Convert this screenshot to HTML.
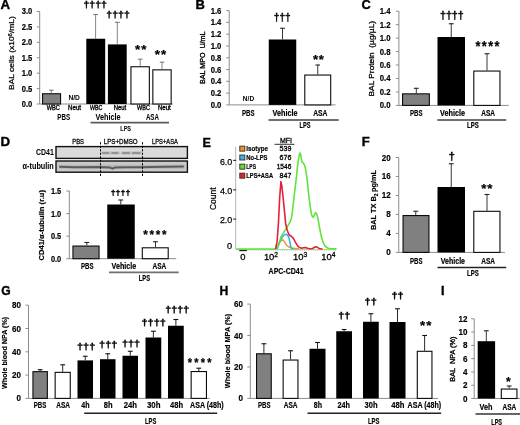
<!DOCTYPE html>
<html lang="en">
<head>
<meta charset="utf-8">
<title>Figure: aspirin reduces LPS-induced lung injury readouts (panels A–I)</title>
<style>
html,body{margin:0;padding:0;background:#fff;}
body{width:520px;height:425px;overflow:hidden;}
svg{display:block;font-family:"Liberation Sans","DejaVu Sans",sans-serif;filter:blur(0.3px);}
svg text{white-space:pre;}
</style>
</head>
<body>
<svg width="520" height="425" viewBox="0 0 520 425" shape-rendering="geometricPrecision">
<rect x="0" y="0" width="520" height="425" fill="#fff"/>
<g id="pA">
<text x="0.4" y="8.92" font-size="12.2" font-weight="bold" stroke="#000" stroke-width="0.35" textLength="9.6" lengthAdjust="spacingAndGlyphs">A</text>
<line x1="39.7" y1="11.5" x2="39.7" y2="104" stroke="#8c8c8c" stroke-width="1" />
<line x1="36.7" y1="104" x2="39.7" y2="104" stroke="#8c8c8c" stroke-width="1" />
<text x="32.3" y="106.97" font-size="8.6" text-anchor="end" font-weight="bold" textLength="10.5" lengthAdjust="spacingAndGlyphs" stroke="#000" stroke-width="0.18">0.0</text>
<line x1="36.7" y1="88.58" x2="39.7" y2="88.58" stroke="#8c8c8c" stroke-width="1" />
<text x="32.3" y="91.55" font-size="8.6" text-anchor="end" font-weight="bold" textLength="10.5" lengthAdjust="spacingAndGlyphs" stroke="#000" stroke-width="0.18">0.5</text>
<line x1="36.7" y1="73.17" x2="39.7" y2="73.17" stroke="#8c8c8c" stroke-width="1" />
<text x="32.3" y="76.13" font-size="8.6" text-anchor="end" font-weight="bold" textLength="10.5" lengthAdjust="spacingAndGlyphs" stroke="#000" stroke-width="0.18">1.0</text>
<line x1="36.7" y1="57.75" x2="39.7" y2="57.75" stroke="#8c8c8c" stroke-width="1" />
<text x="32.3" y="60.72" font-size="8.6" text-anchor="end" font-weight="bold" textLength="10.5" lengthAdjust="spacingAndGlyphs" stroke="#000" stroke-width="0.18">1.5</text>
<line x1="36.7" y1="42.33" x2="39.7" y2="42.33" stroke="#8c8c8c" stroke-width="1" />
<text x="32.3" y="45.3" font-size="8.6" text-anchor="end" font-weight="bold" textLength="10.5" lengthAdjust="spacingAndGlyphs" stroke="#000" stroke-width="0.18">2.0</text>
<line x1="36.7" y1="26.92" x2="39.7" y2="26.92" stroke="#8c8c8c" stroke-width="1" />
<text x="32.3" y="29.88" font-size="8.6" text-anchor="end" font-weight="bold" textLength="10.5" lengthAdjust="spacingAndGlyphs" stroke="#000" stroke-width="0.18">2.5</text>
<line x1="36.7" y1="11.5" x2="39.7" y2="11.5" stroke="#8c8c8c" stroke-width="1" />
<text x="32.3" y="14.47" font-size="8.6" text-anchor="end" font-weight="bold" textLength="10.5" lengthAdjust="spacingAndGlyphs" stroke="#000" stroke-width="0.18">3.0</text>
<text transform="translate(11.6 53.1) rotate(-90)" x="0" y="2.66" font-size="7.7" text-anchor="middle" textLength="73.8" lengthAdjust="spacingAndGlyphs" stroke="#000" stroke-width="0.25">BAL cells (x10<tspan font-size="5.5" dy="-2.6">6</tspan><tspan dy="2.6">/mL)</tspan></text>
<line x1="39.7" y1="104" x2="173" y2="104" stroke="#8c8c8c" stroke-width="1" />
<rect x="42.55" y="93.75" width="18" height="10.25" fill="#808080" stroke="#0a0a0a" stroke-width="1.1"/>
<line x1="51.3" y1="90.2" x2="51.3" y2="93.2" stroke="#777" stroke-width="0.9" />
<line x1="49" y1="90.2" x2="53.6" y2="90.2" stroke="#777" stroke-width="1.1" />
<text x="74.2" y="100.11" font-size="6.7" text-anchor="middle" font-weight="bold" textLength="11.5" lengthAdjust="spacingAndGlyphs" stroke="#000" stroke-width="0.01">N/D</text>
<rect x="86.3" y="38.75" width="18.9" height="65.25" fill="#000"/>
<line x1="95.6" y1="14.5" x2="95.6" y2="38.75" stroke="#777" stroke-width="0.9" />
<line x1="93.3" y1="14.5" x2="97.9" y2="14.5" stroke="#777" stroke-width="1.1" />
<rect x="107.9" y="44.4" width="18.8" height="59.6" fill="#000"/>
<line x1="117.3" y1="22.3" x2="117.3" y2="44.5" stroke="#777" stroke-width="0.9" />
<line x1="114.9" y1="22.3" x2="119.7" y2="22.3" stroke="#777" stroke-width="1.1" />
<rect x="130.95" y="66.75" width="18.4" height="37.25" fill="#fff" stroke="#0a0a0a" stroke-width="1.1"/>
<line x1="140.2" y1="59.2" x2="140.2" y2="66.25" stroke="#777" stroke-width="0.9" />
<line x1="137.9" y1="59.2" x2="142.5" y2="59.2" stroke="#777" stroke-width="1.1" />
<rect x="152.85" y="69.85" width="18.3" height="34.15" fill="#fff" stroke="#0a0a0a" stroke-width="1.1"/>
<line x1="162" y1="62.2" x2="162" y2="69.5" stroke="#777" stroke-width="0.9" />
<line x1="159.8" y1="62.2" x2="164.2" y2="62.2" stroke="#777" stroke-width="1.1" />
<text x="83.4" y="7.51" font-size="8.99" font-weight="bold" stroke="#000" stroke-width="0.3" textLength="23.5" lengthAdjust="spacingAndGlyphs">††††</text>
<text x="106.3" y="17.73" font-size="8.73" font-weight="bold" stroke="#000" stroke-width="0.3" textLength="23.5" lengthAdjust="spacingAndGlyphs">††††</text>
<text transform="translate(135 54.21) scale(1.05 1)" x="0 5.87" y="0" font-size="12.7" font-weight="bold" stroke="#000" stroke-width="0.2">**</text>
<text transform="translate(154.8 59.41) scale(1.05 1)" x="0 5.87" y="0" font-size="12.7" font-weight="bold" stroke="#000" stroke-width="0.2">**</text>
<text x="46.7" y="110.37" font-size="6.3" textLength="13.2" lengthAdjust="spacingAndGlyphs" stroke="#000" stroke-width="0.32">WBC</text>
<text x="68.1" y="110.37" font-size="6.3" textLength="12.9" lengthAdjust="spacingAndGlyphs" stroke="#000" stroke-width="0.32">Neut</text>
<text x="90" y="110.37" font-size="6.3" textLength="12.5" lengthAdjust="spacingAndGlyphs" stroke="#000" stroke-width="0.32">WBC</text>
<text x="113.75" y="110.37" font-size="6.3" textLength="12.5" lengthAdjust="spacingAndGlyphs" stroke="#000" stroke-width="0.32">Neut</text>
<text x="137.1" y="110.37" font-size="6.3" textLength="12.8" lengthAdjust="spacingAndGlyphs" stroke="#000" stroke-width="0.32">WBC</text>
<text x="158" y="110.37" font-size="6.3" textLength="12.8" lengthAdjust="spacingAndGlyphs" stroke="#000" stroke-width="0.32">Neut</text>
<text x="57.3" y="119.7" font-size="8.4" font-weight="bold" textLength="12.9" lengthAdjust="spacingAndGlyphs" stroke="#000" stroke-width="0.05">PBS</text>
<text x="95.5" y="119.7" font-size="8.4" font-weight="bold" textLength="25" lengthAdjust="spacingAndGlyphs" stroke="#000" stroke-width="0.05">Vehicle</text>
<text x="145.9" y="119.7" font-size="8.4" font-weight="bold" textLength="13" lengthAdjust="spacingAndGlyphs" stroke="#000" stroke-width="0.05">ASA</text>
<line x1="90.5" y1="122.6" x2="169" y2="122.6" stroke="#5c5c5c" stroke-width="1.9" />
<text x="120.3" y="130.56" font-size="8" font-weight="bold" textLength="10.7" lengthAdjust="spacingAndGlyphs" stroke="#000" stroke-width="0.05">LPS</text>
</g>
<g id="pB">
<text x="195.6" y="9.32" font-size="12.2" font-weight="bold" stroke="#000" stroke-width="0.35" textLength="9.4" lengthAdjust="spacingAndGlyphs">B</text>
<line x1="229.2" y1="10.6" x2="229.2" y2="104.9" stroke="#8c8c8c" stroke-width="1" />
<line x1="226.2" y1="104.9" x2="229.2" y2="104.9" stroke="#8c8c8c" stroke-width="1" />
<text x="221.4" y="107.87" font-size="8.6" text-anchor="end" font-weight="bold" textLength="10.7" lengthAdjust="spacingAndGlyphs" stroke="#000" stroke-width="0.18">0.0</text>
<line x1="226.2" y1="93.11" x2="229.2" y2="93.11" stroke="#8c8c8c" stroke-width="1" />
<text x="221.4" y="96.08" font-size="8.6" text-anchor="end" font-weight="bold" textLength="10.7" lengthAdjust="spacingAndGlyphs" stroke="#000" stroke-width="0.18">0.2</text>
<line x1="226.2" y1="81.33" x2="229.2" y2="81.33" stroke="#8c8c8c" stroke-width="1" />
<text x="221.4" y="84.29" font-size="8.6" text-anchor="end" font-weight="bold" textLength="10.7" lengthAdjust="spacingAndGlyphs" stroke="#000" stroke-width="0.18">0.4</text>
<line x1="226.2" y1="69.54" x2="229.2" y2="69.54" stroke="#8c8c8c" stroke-width="1" />
<text x="221.4" y="72.5" font-size="8.6" text-anchor="end" font-weight="bold" textLength="10.7" lengthAdjust="spacingAndGlyphs" stroke="#000" stroke-width="0.18">0.6</text>
<line x1="226.2" y1="57.75" x2="229.2" y2="57.75" stroke="#8c8c8c" stroke-width="1" />
<text x="221.4" y="60.72" font-size="8.6" text-anchor="end" font-weight="bold" textLength="10.7" lengthAdjust="spacingAndGlyphs" stroke="#000" stroke-width="0.18">0.8</text>
<line x1="226.2" y1="45.96" x2="229.2" y2="45.96" stroke="#8c8c8c" stroke-width="1" />
<text x="221.4" y="48.93" font-size="8.6" text-anchor="end" font-weight="bold" textLength="10.7" lengthAdjust="spacingAndGlyphs" stroke="#000" stroke-width="0.18">1.0</text>
<line x1="226.2" y1="34.17" x2="229.2" y2="34.17" stroke="#8c8c8c" stroke-width="1" />
<text x="221.4" y="37.14" font-size="8.6" text-anchor="end" font-weight="bold" textLength="10.7" lengthAdjust="spacingAndGlyphs" stroke="#000" stroke-width="0.18">1.2</text>
<line x1="226.2" y1="22.39" x2="229.2" y2="22.39" stroke="#8c8c8c" stroke-width="1" />
<text x="221.4" y="25.35" font-size="8.6" text-anchor="end" font-weight="bold" textLength="10.7" lengthAdjust="spacingAndGlyphs" stroke="#000" stroke-width="0.18">1.4</text>
<line x1="226.2" y1="10.6" x2="229.2" y2="10.6" stroke="#8c8c8c" stroke-width="1" />
<text x="221.4" y="13.57" font-size="8.6" text-anchor="end" font-weight="bold" textLength="10.7" lengthAdjust="spacingAndGlyphs" stroke="#000" stroke-width="0.18">1.6</text>
<text transform="translate(202.7 57.8) rotate(-90)" x="0" y="2.69" font-size="7.8" text-anchor="middle" textLength="52.4" lengthAdjust="spacingAndGlyphs" stroke="#000" stroke-width="0.35">BAL MPO&#160; U/mL</text>
<line x1="229.2" y1="104.9" x2="335.5" y2="104.9" stroke="#8c8c8c" stroke-width="1" />
<text x="248.5" y="101.11" font-size="6.7" text-anchor="middle" font-weight="bold" textLength="11.3" lengthAdjust="spacingAndGlyphs" stroke="#000" stroke-width="0.01">N/D</text>
<rect x="268.75" y="39.5" width="27.5" height="65.4" fill="#000"/>
<line x1="282.5" y1="28.25" x2="282.5" y2="39.5" stroke="#222" stroke-width="0.9" />
<line x1="280.1" y1="28.25" x2="284.9" y2="28.25" stroke="#222" stroke-width="1.1" />
<rect x="304.8" y="75.05" width="25.9" height="29.85" fill="#fff" stroke="#0a0a0a" stroke-width="1.1"/>
<line x1="317.75" y1="65" x2="317.75" y2="74.5" stroke="#222" stroke-width="0.9" />
<line x1="315.45" y1="65" x2="320.05" y2="65" stroke="#222" stroke-width="1.1" />
<text x="273.75" y="21.19" font-size="11.01" font-weight="bold" stroke="#000" stroke-width="0.3" textLength="17" lengthAdjust="spacingAndGlyphs">†††</text>
<text transform="translate(313 63.63) scale(1.05 1)" x="0 5.5" y="0" font-size="12.43" font-weight="bold" stroke="#000" stroke-width="0.2">**</text>
<text x="242" y="116.14" font-size="8.8" font-weight="bold" textLength="12.5" lengthAdjust="spacingAndGlyphs" stroke="#000" stroke-width="0.18">PBS</text>
<text x="272.5" y="116.24" font-size="8.8" font-weight="bold" textLength="25" lengthAdjust="spacingAndGlyphs" stroke="#000" stroke-width="0.18">Vehicle</text>
<text x="313.25" y="116.24" font-size="8.8" font-weight="bold" textLength="14.25" lengthAdjust="spacingAndGlyphs" stroke="#000" stroke-width="0.18">ASA</text>
<line x1="268.5" y1="120" x2="338.75" y2="120" stroke="#707070" stroke-width="1.9" />
<text x="299.5" y="128.46" font-size="8.3" font-weight="bold" textLength="11" lengthAdjust="spacingAndGlyphs" stroke="#000" stroke-width="0.18">LPS</text>
</g>
<g id="pC">
<text x="361.6" y="8.92" font-size="12.2" font-weight="bold" stroke="#000" stroke-width="0.35" textLength="9.3" lengthAdjust="spacingAndGlyphs">C</text>
<line x1="398.9" y1="11.2" x2="398.9" y2="105.4" stroke="#8c8c8c" stroke-width="1" />
<line x1="395.9" y1="105.4" x2="398.9" y2="105.4" stroke="#8c8c8c" stroke-width="1" />
<text x="390.5" y="108.37" font-size="8.6" text-anchor="end" font-weight="bold" textLength="10.8" lengthAdjust="spacingAndGlyphs" stroke="#000" stroke-width="0.18">0.0</text>
<line x1="395.9" y1="91.94" x2="398.9" y2="91.94" stroke="#8c8c8c" stroke-width="1" />
<text x="390.5" y="94.91" font-size="8.6" text-anchor="end" font-weight="bold" textLength="10.8" lengthAdjust="spacingAndGlyphs" stroke="#000" stroke-width="0.18">0.2</text>
<line x1="395.9" y1="78.49" x2="398.9" y2="78.49" stroke="#8c8c8c" stroke-width="1" />
<text x="390.5" y="81.45" font-size="8.6" text-anchor="end" font-weight="bold" textLength="10.8" lengthAdjust="spacingAndGlyphs" stroke="#000" stroke-width="0.18">0.4</text>
<line x1="395.9" y1="65.03" x2="398.9" y2="65.03" stroke="#8c8c8c" stroke-width="1" />
<text x="390.5" y="68" font-size="8.6" text-anchor="end" font-weight="bold" textLength="10.8" lengthAdjust="spacingAndGlyphs" stroke="#000" stroke-width="0.18">0.6</text>
<line x1="395.9" y1="51.57" x2="398.9" y2="51.57" stroke="#8c8c8c" stroke-width="1" />
<text x="390.5" y="54.54" font-size="8.6" text-anchor="end" font-weight="bold" textLength="10.8" lengthAdjust="spacingAndGlyphs" stroke="#000" stroke-width="0.18">0.8</text>
<line x1="395.9" y1="38.11" x2="398.9" y2="38.11" stroke="#8c8c8c" stroke-width="1" />
<text x="390.5" y="41.08" font-size="8.6" text-anchor="end" font-weight="bold" textLength="10.8" lengthAdjust="spacingAndGlyphs" stroke="#000" stroke-width="0.18">1.0</text>
<line x1="395.9" y1="24.66" x2="398.9" y2="24.66" stroke="#8c8c8c" stroke-width="1" />
<text x="390.5" y="27.62" font-size="8.6" text-anchor="end" font-weight="bold" textLength="10.8" lengthAdjust="spacingAndGlyphs" stroke="#000" stroke-width="0.18">1.2</text>
<line x1="395.9" y1="11.2" x2="398.9" y2="11.2" stroke="#8c8c8c" stroke-width="1" />
<text x="390.5" y="14.17" font-size="8.6" text-anchor="end" font-weight="bold" textLength="10.8" lengthAdjust="spacingAndGlyphs" stroke="#000" stroke-width="0.18">1.4</text>
<text transform="translate(371.6 58.7) rotate(-90)" x="0" y="2.66" font-size="7.7" text-anchor="middle" textLength="75.5" lengthAdjust="spacingAndGlyphs" stroke="#000" stroke-width="0.3">BAL Protein&#160; (µg/µL)</text>
<line x1="398.9" y1="105.4" x2="508.75" y2="105.4" stroke="#8c8c8c" stroke-width="1" />
<rect x="402.55" y="93.85" width="26.8" height="11.55" fill="#808080" stroke="#0a0a0a" stroke-width="1.1"/>
<line x1="416.3" y1="88.3" x2="416.3" y2="93.3" stroke="#222" stroke-width="0.9" />
<line x1="413.9" y1="88.3" x2="418.7" y2="88.3" stroke="#222" stroke-width="1.1" />
<rect x="437.5" y="37" width="27.5" height="68.4" fill="#000"/>
<line x1="451.25" y1="23.75" x2="451.25" y2="37" stroke="#222" stroke-width="0.9" />
<line x1="448.85" y1="23.75" x2="453.65" y2="23.75" stroke="#222" stroke-width="1.1" />
<rect x="473.8" y="71.05" width="26.15" height="34.35" fill="#fff" stroke="#0a0a0a" stroke-width="1.1"/>
<line x1="487" y1="53.75" x2="487" y2="70.5" stroke="#222" stroke-width="0.9" />
<line x1="484.6" y1="53.75" x2="489.4" y2="53.75" stroke="#222" stroke-width="1.1" />
<text x="440" y="18.75" font-size="10.06" font-weight="bold" stroke="#000" stroke-width="0.3" textLength="23.75" lengthAdjust="spacingAndGlyphs">††††</text>
<text transform="translate(475.6 51.36) scale(0.92 1)" x="0 6.81 13.63 20.44" y="0" font-size="13.78" font-weight="bold" stroke="#000" stroke-width="0.2">****</text>
<text x="410" y="115.54" font-size="8.8" font-weight="bold" textLength="12.5" lengthAdjust="spacingAndGlyphs" stroke="#000" stroke-width="0.18">PBS</text>
<text x="440" y="115.54" font-size="8.8" font-weight="bold" textLength="25" lengthAdjust="spacingAndGlyphs" stroke="#000" stroke-width="0.18">Vehicle</text>
<text x="481.25" y="115.54" font-size="8.8" font-weight="bold" textLength="13.75" lengthAdjust="spacingAndGlyphs" stroke="#000" stroke-width="0.18">ASA</text>
<line x1="437.3" y1="120" x2="506.25" y2="120" stroke="#707070" stroke-width="1.9" />
<text x="467" y="128.46" font-size="8.3" font-weight="bold" textLength="11.75" lengthAdjust="spacingAndGlyphs" stroke="#000" stroke-width="0.18">LPS</text>
</g>
<g id="pD">
<text x="0.4" y="146.22" font-size="12.2" font-weight="bold" stroke="#000" stroke-width="0.35" textLength="9.6" lengthAdjust="spacingAndGlyphs">D</text>
<text x="72.3" y="143.61" font-size="7" textLength="11.6" lengthAdjust="spacingAndGlyphs" stroke="#000" stroke-width="0.28">PBS</text>
<text x="103.75" y="143.61" font-size="7" textLength="33.85" lengthAdjust="spacingAndGlyphs" stroke="#000" stroke-width="0.28">LPS+DMSO</text>
<text x="152" y="143.61" font-size="7" textLength="26" lengthAdjust="spacingAndGlyphs" stroke="#000" stroke-width="0.28">LPS+ASA</text>
<rect x="56" y="146.6" width="131.4" height="11.8" fill="#dadada" stroke="#111" stroke-width="1.4"/>
<rect x="56" y="161" width="131.4" height="11.2" fill="#c9c9c9" stroke="#111" stroke-width="1.4"/>
<text x="53.8" y="155.44" font-size="8.8" text-anchor="end" font-weight="bold" textLength="17.8" lengthAdjust="spacingAndGlyphs" stroke="#000" stroke-width="0.01">CD41</text>
<text x="53.8" y="168.53" font-size="8.5" text-anchor="end" font-weight="bold" textLength="31.2" lengthAdjust="spacingAndGlyphs" stroke="#000" stroke-width="0.05">α-tubulin</text>
<line x1="102.2" y1="153" x2="109.05" y2="153" stroke="#c2c2c2" stroke-width="3.6" stroke-linecap="round"/>
<line x1="102.8" y1="153" x2="108.45" y2="153" stroke="#858585" stroke-width="1.7" stroke-linecap="round"/>
<line x1="111.45" y1="153" x2="118.3" y2="153" stroke="#c2c2c2" stroke-width="3.6" stroke-linecap="round"/>
<line x1="112.05" y1="153" x2="117.7" y2="153" stroke="#858585" stroke-width="1.7" stroke-linecap="round"/>
<line x1="122.2" y1="153" x2="129.8" y2="153" stroke="#c2c2c2" stroke-width="3.6" stroke-linecap="round"/>
<line x1="122.8" y1="153" x2="129.2" y2="153" stroke="#858585" stroke-width="1.7" stroke-linecap="round"/>
<line x1="132.2" y1="153" x2="140.3" y2="153" stroke="#c2c2c2" stroke-width="3.6" stroke-linecap="round"/>
<line x1="132.8" y1="153" x2="139.7" y2="153" stroke="#858585" stroke-width="1.7" stroke-linecap="round"/>
<path d="M61 166.8 L183 166.8" fill="none" stroke="#b8b8b8" stroke-width="4.2" stroke-linecap="round"/>
<path d="M60 166.8 L75 167.2 L98 167 L104 167.2 L110 167.6 L112.5 168.6 L115 167.6 L125 167.2 L142 167.2 L150 166.9 L183 166.6" fill="none" stroke="#5c5c5c" stroke-width="2" stroke-linecap="round"/>
<line x1="100.5" y1="142.2" x2="100.5" y2="176.2" stroke="#000" stroke-width="1" stroke-dasharray="2.2 1.3"/>
<line x1="142.5" y1="142.2" x2="142.5" y2="176.2" stroke="#000" stroke-width="1" stroke-dasharray="2.2 1.3"/>
<line x1="69.3" y1="191" x2="69.3" y2="258.7" stroke="#8c8c8c" stroke-width="1" />
<line x1="66.3" y1="258.7" x2="69.3" y2="258.7" stroke="#8c8c8c" stroke-width="1" />
<text x="61.2" y="261.63" font-size="8.5" text-anchor="end" font-weight="bold" textLength="10.3" lengthAdjust="spacingAndGlyphs" stroke="#000" stroke-width="0.18">0.0</text>
<line x1="66.3" y1="236.13" x2="69.3" y2="236.13" stroke="#8c8c8c" stroke-width="1" />
<text x="61.2" y="239.07" font-size="8.5" text-anchor="end" font-weight="bold" textLength="10.3" lengthAdjust="spacingAndGlyphs" stroke="#000" stroke-width="0.18">0.5</text>
<line x1="66.3" y1="213.57" x2="69.3" y2="213.57" stroke="#8c8c8c" stroke-width="1" />
<text x="61.2" y="216.5" font-size="8.5" text-anchor="end" font-weight="bold" textLength="10.3" lengthAdjust="spacingAndGlyphs" stroke="#000" stroke-width="0.18">1.0</text>
<line x1="66.3" y1="191" x2="69.3" y2="191" stroke="#8c8c8c" stroke-width="1" />
<text x="61.2" y="193.93" font-size="8.5" text-anchor="end" font-weight="bold" textLength="10.3" lengthAdjust="spacingAndGlyphs" stroke="#000" stroke-width="0.18">1.5</text>
<text transform="translate(41.9 225.3) rotate(-90)" x="0" y="2.59" font-size="7.5" text-anchor="middle" font-weight="bold" textLength="70.5" lengthAdjust="spacingAndGlyphs" stroke="#000" stroke-width="0.18">CD41/α-tubulin (r.u)</text>
<line x1="69.3" y1="258.7" x2="176.25" y2="258.7" stroke="#8c8c8c" stroke-width="1" />
<rect x="72.95" y="246.05" width="26.1" height="12.65" fill="#808080" stroke="#0a0a0a" stroke-width="1.1"/>
<line x1="86.8" y1="242.5" x2="86.8" y2="245.5" stroke="#222" stroke-width="0.9" />
<line x1="84.4" y1="242.5" x2="89.2" y2="242.5" stroke="#222" stroke-width="1.1" />
<rect x="107.25" y="204.5" width="27.5" height="54.2" fill="#000"/>
<line x1="120.75" y1="200" x2="120.75" y2="204.5" stroke="#222" stroke-width="0.9" />
<line x1="118.35" y1="200" x2="123.15" y2="200" stroke="#222" stroke-width="1.1" />
<rect x="142.3" y="247.8" width="25.9" height="10.9" fill="#fff" stroke="#0a0a0a" stroke-width="1.1"/>
<line x1="155.5" y1="241.75" x2="155.5" y2="247.25" stroke="#222" stroke-width="0.9" />
<line x1="153.1" y1="241.75" x2="157.9" y2="241.75" stroke="#222" stroke-width="1.1" />
<text x="110.7" y="194.59" font-size="7.59" font-weight="bold" stroke="#000" stroke-width="0.3" textLength="19.6" lengthAdjust="spacingAndGlyphs">††††</text>
<text transform="translate(143.3 238.81) scale(0.92 1)" x="0 6.8 13.61 20.41" y="0" font-size="12.7" font-weight="bold" stroke="#000" stroke-width="0.2">****</text>
<text x="81.1" y="269.24" font-size="8.8" font-weight="bold" textLength="12.4" lengthAdjust="spacingAndGlyphs" stroke="#000" stroke-width="0.18">PBS</text>
<text x="111.5" y="269.04" font-size="8.8" font-weight="bold" textLength="24.75" lengthAdjust="spacingAndGlyphs" stroke="#000" stroke-width="0.18">Vehicle</text>
<text x="152.5" y="269.04" font-size="8.8" font-weight="bold" textLength="13.75" lengthAdjust="spacingAndGlyphs" stroke="#000" stroke-width="0.18">ASA</text>
<line x1="109" y1="272.4" x2="178.75" y2="272.4" stroke="#707070" stroke-width="1.9" />
<text x="138.75" y="280.86" font-size="8.3" font-weight="bold" textLength="11.25" lengthAdjust="spacingAndGlyphs" stroke="#000" stroke-width="0.18">LPS</text>
</g>
<g id="pE">
<text x="202.6" y="146.62" font-size="12.2" font-weight="bold" stroke="#000" stroke-width="0.35" textLength="8.4" lengthAdjust="spacingAndGlyphs">E</text>
<text x="280" y="142.62" font-size="7.6" textLength="12" lengthAdjust="spacingAndGlyphs" stroke="#000" stroke-width="0.3">MFI</text>
<line x1="274.5" y1="144.3" x2="294.5" y2="144.3" stroke="#333" stroke-width="1" />
<rect x="239.8" y="146.15" width="5" height="5" fill="#ee9236" stroke="#3a2a1a" stroke-width="0.9"/>
<text x="246.3" y="151.23" font-size="7.2" font-weight="bold" textLength="21.75" lengthAdjust="spacingAndGlyphs" stroke="#000" stroke-width="0.18">Isotype</text>
<text x="291.3" y="151.37" font-size="7.6" text-anchor="end" textLength="11.75" lengthAdjust="spacingAndGlyphs" stroke="#000" stroke-width="0.32">539</text>
<rect x="239.8" y="155" width="5" height="5" fill="#3db4e8" stroke="#3a2a1a" stroke-width="0.9"/>
<text x="246.3" y="160.08" font-size="7.2" font-weight="bold" textLength="21.25" lengthAdjust="spacingAndGlyphs" stroke="#000" stroke-width="0.18">No-LPS</text>
<text x="291.3" y="160.22" font-size="7.6" text-anchor="end" textLength="11.75" lengthAdjust="spacingAndGlyphs" stroke="#000" stroke-width="0.32">676</text>
<rect x="239.8" y="164.15" width="5" height="5" fill="#5fe238" stroke="#3a2a1a" stroke-width="0.9"/>
<text x="246.3" y="169.23" font-size="7.2" font-weight="bold" textLength="9.8" lengthAdjust="spacingAndGlyphs" stroke="#000" stroke-width="0.18">LPS</text>
<text x="291.3" y="169.37" font-size="7.6" text-anchor="end" textLength="14.6" lengthAdjust="spacingAndGlyphs" stroke="#000" stroke-width="0.32">1546</text>
<rect x="239.8" y="173.15" width="5" height="5" fill="#e3203a" stroke="#3a2a1a" stroke-width="0.9"/>
<text x="246.3" y="178.23" font-size="7.2" font-weight="bold" textLength="26.75" lengthAdjust="spacingAndGlyphs" stroke="#000" stroke-width="0.18">LPS+ASA</text>
<text x="291.3" y="178.37" font-size="7.6" text-anchor="end" textLength="11.75" lengthAdjust="spacingAndGlyphs" stroke="#000" stroke-width="0.32">847</text>
<line x1="235.7" y1="146.5" x2="235.7" y2="249" stroke="#b5b5b5" stroke-width="1" />
<text x="232.3" y="164.52" font-size="9.2" text-anchor="end" textLength="12.4" lengthAdjust="spacingAndGlyphs" stroke="#000" stroke-width="0.25">6.0</text>
<line x1="233" y1="160.35" x2="236.2" y2="160.35" stroke="#222" stroke-width="1" />
<text x="232.3" y="194.02" font-size="9.2" text-anchor="end" textLength="12.4" lengthAdjust="spacingAndGlyphs" stroke="#000" stroke-width="0.25">4.0</text>
<line x1="233" y1="189.85" x2="236.2" y2="189.85" stroke="#222" stroke-width="1" />
<text x="232.3" y="223.27" font-size="9.2" text-anchor="end" textLength="12.4" lengthAdjust="spacingAndGlyphs" stroke="#000" stroke-width="0.25">2.0</text>
<line x1="233" y1="219.1" x2="236.2" y2="219.1" stroke="#222" stroke-width="1" />
<text x="232.2" y="249.17" font-size="9.2" text-anchor="end" stroke="#000" stroke-width="0.25">0</text>
<text transform="translate(212.6 198.75) rotate(-90)" x="0" y="3.1" font-size="9" text-anchor="middle" textLength="22.5" lengthAdjust="spacingAndGlyphs" stroke="#000" stroke-width="0.25">Count</text>
<line x1="235.7" y1="249.6" x2="336" y2="249.6" stroke="#9adf80" stroke-width="1" />
<rect x="239.3" y="249.6" width="7.5" height="1.6" fill="#222"/>
<path d="M247 250.6 H336" stroke="#bbb" stroke-width="1" stroke-dasharray="0.6 1.6" fill="none"/>
<text x="242.9" y="260.24" font-size="9.4" text-anchor="middle" stroke="#000" stroke-width="0.3">0</text>
<text x="263.9" y="260.44" font-size="9.4" stroke="#000" stroke-width="0.3">10<tspan font-size="6.6" dy="-3">2</tspan></text>
<text x="293" y="260.44" font-size="9.4" stroke="#000" stroke-width="0.3">10<tspan font-size="6.6" dy="-3">3</tspan></text>
<text x="321.2" y="260.44" font-size="9.4" stroke="#000" stroke-width="0.3">10<tspan font-size="6.6" dy="-3">4</tspan></text>
<text x="268.6" y="274.46" font-size="8.3" font-weight="bold" textLength="35" lengthAdjust="spacingAndGlyphs" stroke="#000" stroke-width="0.18">APC-CD41</text>
<path d="M276.4 249.1 L278.5 244.4 L280.5 240.9 L283.1 240.0 L284.5 241.9 L286.2 244.7 L288.5 246.8 L291.4 248.0 L299.1 249.0" fill="none" stroke="#f0923a" stroke-width="1.5" stroke-linejoin="round"/>
<path d="M277.1 248.9 L279.5 242.4 L282.3 237.1 L284.0 235.1 L285.7 234.3 L287.5 235.1 L288.8 237.1 L289.8 241.4 L290.6 246.1 L291.5 248.3 L293.5 248.9" fill="none" stroke="#36b4e6" stroke-width="1.6" stroke-linejoin="round"/>
<path d="M236.3 249.1 L275.9 248.9 L278.5 244.4 L281.0 236.9 L284.5 231.2 L287.5 226.3 L290.0 222.1 L291.4 218.5 L292.7 208.9 L294.0 197.5 L295.3 186.5 L296.5 176.3 L297.5 166.5 L298.6 158.8 L299.4 154.8 L300.1 152.9 L300.9 155.4 L301.9 161.8 L303.1 162.9 L304.3 164.6 L305.3 167.7 L306.4 173.8 L307.7 184.5 L309.0 197.5 L310.3 206.8 L311.5 214.6 L312.5 216.8 L313.4 217.2 L314.5 214.6 L315.5 212.7 L316.5 213.5 L317.3 215.9 L318.5 221.6 L319.8 229.0 L321.3 236.3 L323.0 242.2 L325.0 246.0 L327.6 248.0 L330.5 248.7 L336.5 248.9" fill="none" stroke="#62e23c" stroke-width="1.6" stroke-linejoin="round"/>
<path d="M275.5 249.1 L277.1 241.4 L278.4 223.7 L279.7 197.5 L280.9 181.6 L281.9 186.5 L283.1 197.5 L284.4 210.9 L285.7 223.7 L287.2 230.2 L288.8 234.3 L290.1 235.5 L291.4 236.3 L292.7 237.5 L294.0 239.5 L295.8 242.9 L297.8 246.1 L299.5 247.5 L301.7 248.3 L303.5 247.7 L305.6 247.5 L307.5 248.3 L309.5 248.8 L312.5 248.5 L314.5 247.3 L316.0 246.8 L317.5 247.3 L319.8 248.8 L322.5 249.0" fill="none" stroke="#e3203a" stroke-width="1.6" stroke-linejoin="round"/>
</g>
<g id="pF">
<text x="361.8" y="146.42" font-size="12.2" font-weight="bold" stroke="#000" stroke-width="0.35" textLength="8" lengthAdjust="spacingAndGlyphs">F</text>
<line x1="398.75" y1="157.5" x2="398.75" y2="252.4" stroke="#8c8c8c" stroke-width="1" />
<line x1="395.75" y1="252.4" x2="398.75" y2="252.4" stroke="#8c8c8c" stroke-width="1" />
<text x="390.7" y="255.4" font-size="8.7" text-anchor="end" font-weight="bold" textLength="4.5" lengthAdjust="spacingAndGlyphs" stroke="#000" stroke-width="0.18">0</text>
<line x1="395.75" y1="233.42" x2="398.75" y2="233.42" stroke="#8c8c8c" stroke-width="1" />
<text x="390.7" y="236.42" font-size="8.7" text-anchor="end" font-weight="bold" textLength="4.5" lengthAdjust="spacingAndGlyphs" stroke="#000" stroke-width="0.18">4</text>
<line x1="395.75" y1="214.44" x2="398.75" y2="214.44" stroke="#8c8c8c" stroke-width="1" />
<text x="390.7" y="217.44" font-size="8.7" text-anchor="end" font-weight="bold" textLength="4.5" lengthAdjust="spacingAndGlyphs" stroke="#000" stroke-width="0.18">8</text>
<line x1="395.75" y1="195.46" x2="398.75" y2="195.46" stroke="#8c8c8c" stroke-width="1" />
<text x="390.7" y="198.46" font-size="8.7" text-anchor="end" font-weight="bold" textLength="8.9" lengthAdjust="spacingAndGlyphs" stroke="#000" stroke-width="0.18">12</text>
<line x1="395.75" y1="176.48" x2="398.75" y2="176.48" stroke="#8c8c8c" stroke-width="1" />
<text x="390.7" y="179.48" font-size="8.7" text-anchor="end" font-weight="bold" textLength="8.9" lengthAdjust="spacingAndGlyphs" stroke="#000" stroke-width="0.18">16</text>
<line x1="395.75" y1="157.5" x2="398.75" y2="157.5" stroke="#8c8c8c" stroke-width="1" />
<text x="390.7" y="160.5" font-size="8.7" text-anchor="end" font-weight="bold" textLength="8.9" lengthAdjust="spacingAndGlyphs" stroke="#000" stroke-width="0.18">20</text>
<text transform="translate(373.8 200) rotate(-90)" x="0" y="2.55" font-size="7.4" text-anchor="middle" font-weight="bold" textLength="60" lengthAdjust="spacingAndGlyphs" stroke="#000" stroke-width="0.18">BAL TX B<tspan font-size="5" dy="1.6">2 </tspan><tspan dy="-1.6">pg/mL</tspan></text>
<line x1="398.75" y1="252.4" x2="505" y2="252.4" stroke="#8c8c8c" stroke-width="1" />
<rect x="403.05" y="215.55" width="25.9" height="36.85" fill="#808080" stroke="#0a0a0a" stroke-width="1.1"/>
<line x1="415.75" y1="211.25" x2="415.75" y2="215" stroke="#222" stroke-width="0.9" />
<line x1="413.35" y1="211.25" x2="418.15" y2="211.25" stroke="#222" stroke-width="1.1" />
<rect x="437.5" y="187" width="27.5" height="65.4" fill="#000"/>
<line x1="451.25" y1="163.75" x2="451.25" y2="187" stroke="#222" stroke-width="0.9" />
<line x1="448.85" y1="163.75" x2="453.65" y2="163.75" stroke="#222" stroke-width="1.1" />
<rect x="473.8" y="211.3" width="26.15" height="41.1" fill="#fff" stroke="#0a0a0a" stroke-width="1.1"/>
<line x1="487" y1="194.5" x2="487" y2="210.75" stroke="#222" stroke-width="0.9" />
<line x1="484.6" y1="194.5" x2="489.4" y2="194.5" stroke="#222" stroke-width="1.1" />
<text x="448.4" y="159.83" font-size="10.25" font-weight="bold" stroke="#000" stroke-width="0.3" textLength="6.4" lengthAdjust="spacingAndGlyphs">†</text>
<text transform="translate(481.2 192.61) scale(1.05 1)" x="0 5.87" y="0" font-size="12.7" font-weight="bold" stroke="#000" stroke-width="0.2">**</text>
<text x="410" y="263.54" font-size="8.8" font-weight="bold" textLength="12.5" lengthAdjust="spacingAndGlyphs" stroke="#000" stroke-width="0.18">PBS</text>
<text x="440.75" y="263.54" font-size="8.8" font-weight="bold" textLength="24.25" lengthAdjust="spacingAndGlyphs" stroke="#000" stroke-width="0.18">Vehicle</text>
<text x="481.25" y="263.54" font-size="8.8" font-weight="bold" textLength="13.75" lengthAdjust="spacingAndGlyphs" stroke="#000" stroke-width="0.18">ASA</text>
<line x1="437.5" y1="267.5" x2="506.25" y2="267.5" stroke="#222" stroke-width="1.4" />
<text x="467" y="276.06" font-size="8.3" font-weight="bold" textLength="11.75" lengthAdjust="spacingAndGlyphs" stroke="#000" stroke-width="0.18">LPS</text>
</g>
<g id="pG">
<text x="1.2" y="295.32" font-size="12.2" font-weight="bold" stroke="#000" stroke-width="0.35" textLength="9.4" lengthAdjust="spacingAndGlyphs">G</text>
<line x1="28.5" y1="305.2" x2="28.5" y2="398.4" stroke="#8c8c8c" stroke-width="1" />
<line x1="25.5" y1="398.4" x2="28.5" y2="398.4" stroke="#8c8c8c" stroke-width="1" />
<text x="20.9" y="401.4" font-size="8.7" text-anchor="end" font-weight="bold" textLength="4.5" lengthAdjust="spacingAndGlyphs" stroke="#000" stroke-width="0.18">0</text>
<line x1="25.5" y1="375.1" x2="28.5" y2="375.1" stroke="#8c8c8c" stroke-width="1" />
<text x="20.9" y="378.1" font-size="8.7" text-anchor="end" font-weight="bold" textLength="8.9" lengthAdjust="spacingAndGlyphs" stroke="#000" stroke-width="0.18">20</text>
<line x1="25.5" y1="351.8" x2="28.5" y2="351.8" stroke="#8c8c8c" stroke-width="1" />
<text x="20.9" y="354.8" font-size="8.7" text-anchor="end" font-weight="bold" textLength="8.9" lengthAdjust="spacingAndGlyphs" stroke="#000" stroke-width="0.18">40</text>
<line x1="25.5" y1="328.5" x2="28.5" y2="328.5" stroke="#8c8c8c" stroke-width="1" />
<text x="20.9" y="331.5" font-size="8.7" text-anchor="end" font-weight="bold" textLength="8.9" lengthAdjust="spacingAndGlyphs" stroke="#000" stroke-width="0.18">60</text>
<line x1="25.5" y1="305.2" x2="28.5" y2="305.2" stroke="#8c8c8c" stroke-width="1" />
<text x="20.9" y="308.2" font-size="8.7" text-anchor="end" font-weight="bold" textLength="8.9" lengthAdjust="spacingAndGlyphs" stroke="#000" stroke-width="0.18">80</text>
<text transform="translate(3.8 352.9) rotate(-90)" x="0" y="2.69" font-size="7.8" text-anchor="middle" font-weight="bold" textLength="72" lengthAdjust="spacingAndGlyphs" stroke="#000" stroke-width="0.18">Whole blood NPA (%)</text>
<line x1="28.5" y1="398.4" x2="209.5" y2="398.4" stroke="#8c8c8c" stroke-width="1" />
<rect x="32.95" y="371.65" width="14.4" height="26.75" fill="#808080" stroke="#0a0a0a" stroke-width="1.1"/>
<line x1="40.15" y1="369.7" x2="40.15" y2="371.1" stroke="#111" stroke-width="0.9" />
<line x1="37.75" y1="369.7" x2="42.55" y2="369.7" stroke="#111" stroke-width="1.1" />
<rect x="55.15" y="372.35" width="15.1" height="26.05" fill="#fff" stroke="#0a0a0a" stroke-width="1.1"/>
<line x1="62.7" y1="364.8" x2="62.7" y2="371.8" stroke="#111" stroke-width="0.9" />
<line x1="60.3" y1="364.8" x2="65.1" y2="364.8" stroke="#111" stroke-width="1.1" />
<rect x="77.5" y="360.4" width="15.5" height="38" fill="#000"/>
<line x1="85.25" y1="356.25" x2="85.25" y2="360.4" stroke="#111" stroke-width="0.9" />
<line x1="82.85" y1="356.25" x2="87.65" y2="356.25" stroke="#111" stroke-width="1.1" />
<rect x="100" y="359.2" width="15.5" height="39.2" fill="#000"/>
<line x1="107.75" y1="353.75" x2="107.75" y2="359.2" stroke="#111" stroke-width="0.9" />
<line x1="105.35" y1="353.75" x2="110.15" y2="353.75" stroke="#111" stroke-width="1.1" />
<rect x="122.5" y="355.75" width="15.5" height="42.65" fill="#000"/>
<line x1="130.25" y1="351.25" x2="130.25" y2="355.75" stroke="#111" stroke-width="0.9" />
<line x1="127.85" y1="351.25" x2="132.65" y2="351.25" stroke="#111" stroke-width="1.1" />
<rect x="145.5" y="337.5" width="15.75" height="60.9" fill="#000"/>
<line x1="153.38" y1="331.25" x2="153.38" y2="337.5" stroke="#111" stroke-width="0.9" />
<line x1="150.97" y1="331.25" x2="155.78" y2="331.25" stroke="#111" stroke-width="1.1" />
<rect x="168" y="325.75" width="15.75" height="72.65" fill="#000"/>
<line x1="175.88" y1="319.5" x2="175.88" y2="325.75" stroke="#111" stroke-width="0.9" />
<line x1="173.47" y1="319.5" x2="178.28" y2="319.5" stroke="#111" stroke-width="1.1" />
<rect x="191.15" y="371.55" width="15.3" height="26.85" fill="#fff" stroke="#0a0a0a" stroke-width="1.1"/>
<line x1="198.8" y1="368.2" x2="198.8" y2="371" stroke="#111" stroke-width="0.9" />
<line x1="196.4" y1="368.2" x2="201.2" y2="368.2" stroke="#111" stroke-width="1.1" />
<text x="77" y="350.27" font-size="9.75" font-weight="bold" stroke="#000" stroke-width="0.3" textLength="18.3" lengthAdjust="spacingAndGlyphs">†††</text>
<text x="99" y="347.57" font-size="9.75" font-weight="bold" stroke="#000" stroke-width="0.3" textLength="18.5" lengthAdjust="spacingAndGlyphs">†††</text>
<text x="122" y="346.57" font-size="9.75" font-weight="bold" stroke="#000" stroke-width="0.3" textLength="18.2" lengthAdjust="spacingAndGlyphs">†††</text>
<text x="141.5" y="325.82" font-size="8.86" font-weight="bold" stroke="#000" stroke-width="0.3" textLength="24.5" lengthAdjust="spacingAndGlyphs">††††</text>
<text x="165.3" y="312.93" font-size="8.73" font-weight="bold" stroke="#000" stroke-width="0.3" textLength="24" lengthAdjust="spacingAndGlyphs">††††</text>
<text transform="translate(187.8 366.76) scale(0.92 1)" x="0 7.01 14.02 21.03" y="0" font-size="11.89" font-weight="bold" stroke="#000" stroke-width="0.2">****</text>
<text x="33.75" y="408.2" font-size="8.7" font-weight="bold" textLength="12.5" lengthAdjust="spacingAndGlyphs" stroke="#000" stroke-width="0.18">PBS</text>
<text x="56.25" y="408.2" font-size="8.7" font-weight="bold" textLength="13.75" lengthAdjust="spacingAndGlyphs" stroke="#000" stroke-width="0.18">ASA</text>
<text x="81.25" y="408.2" font-size="8.7" font-weight="bold" textLength="8.25" lengthAdjust="spacingAndGlyphs" stroke="#000" stroke-width="0.18">4h</text>
<text x="103.75" y="408.2" font-size="8.7" font-weight="bold" textLength="8.75" lengthAdjust="spacingAndGlyphs" stroke="#000" stroke-width="0.18">8h</text>
<text x="123.75" y="408.2" font-size="8.7" font-weight="bold" textLength="13.25" lengthAdjust="spacingAndGlyphs" stroke="#000" stroke-width="0.18">24h</text>
<text x="147" y="408.2" font-size="8.7" font-weight="bold" textLength="13.5" lengthAdjust="spacingAndGlyphs" stroke="#000" stroke-width="0.18">30h</text>
<text x="170" y="408.2" font-size="8.7" font-weight="bold" textLength="13" lengthAdjust="spacingAndGlyphs" stroke="#000" stroke-width="0.18">48h</text>
<text x="190" y="408.2" font-size="8.7" font-weight="bold" textLength="33.75" lengthAdjust="spacingAndGlyphs" stroke="#000" stroke-width="0.18">ASA (48h)</text>
<line x1="84.2" y1="413.3" x2="217.2" y2="413.3" stroke="#222" stroke-width="1.4" />
<text x="145" y="424.06" font-size="8.3" font-weight="bold" textLength="11.25" lengthAdjust="spacingAndGlyphs" stroke="#000" stroke-width="0.18">LPS</text>
</g>
<g id="pH">
<text x="219.5" y="294.72" font-size="12.2" font-weight="bold" stroke="#000" stroke-width="0.35" textLength="8.8" lengthAdjust="spacingAndGlyphs">H</text>
<line x1="250.3" y1="304.1" x2="250.3" y2="398.4" stroke="#8c8c8c" stroke-width="1" />
<line x1="247.3" y1="398.4" x2="250.3" y2="398.4" stroke="#8c8c8c" stroke-width="1" />
<text x="243" y="401.4" font-size="8.7" text-anchor="end" font-weight="bold" textLength="4.5" lengthAdjust="spacingAndGlyphs" stroke="#000" stroke-width="0.18">0</text>
<line x1="247.3" y1="366.97" x2="250.3" y2="366.97" stroke="#8c8c8c" stroke-width="1" />
<text x="243" y="369.97" font-size="8.7" text-anchor="end" font-weight="bold" textLength="8.9" lengthAdjust="spacingAndGlyphs" stroke="#000" stroke-width="0.18">20</text>
<line x1="247.3" y1="335.53" x2="250.3" y2="335.53" stroke="#8c8c8c" stroke-width="1" />
<text x="243" y="338.53" font-size="8.7" text-anchor="end" font-weight="bold" textLength="8.9" lengthAdjust="spacingAndGlyphs" stroke="#000" stroke-width="0.18">40</text>
<line x1="247.3" y1="304.1" x2="250.3" y2="304.1" stroke="#8c8c8c" stroke-width="1" />
<text x="243" y="307.1" font-size="8.7" text-anchor="end" font-weight="bold" textLength="8.9" lengthAdjust="spacingAndGlyphs" stroke="#000" stroke-width="0.18">60</text>
<text transform="translate(227.6 351) rotate(-90)" x="0" y="2.69" font-size="7.8" text-anchor="middle" font-weight="bold" textLength="74.5" lengthAdjust="spacingAndGlyphs" stroke="#000" stroke-width="0.18">Whole blood MPA (%)</text>
<line x1="250.3" y1="398.4" x2="438" y2="398.4" stroke="#8c8c8c" stroke-width="1" />
<rect x="256.55" y="353.8" width="14.7" height="44.6" fill="#808080" stroke="#0a0a0a" stroke-width="1.1"/>
<line x1="263.9" y1="343.75" x2="263.9" y2="353.25" stroke="#111" stroke-width="0.9" />
<line x1="261.5" y1="343.75" x2="266.3" y2="343.75" stroke="#111" stroke-width="1.1" />
<rect x="283.15" y="360.05" width="14.8" height="38.35" fill="#fff" stroke="#0a0a0a" stroke-width="1.1"/>
<line x1="290.55" y1="350.75" x2="290.55" y2="359.5" stroke="#111" stroke-width="0.9" />
<line x1="288.15" y1="350.75" x2="292.95" y2="350.75" stroke="#111" stroke-width="1.1" />
<rect x="309.5" y="348.75" width="16" height="49.65" fill="#000"/>
<line x1="317.5" y1="342.5" x2="317.5" y2="348.75" stroke="#111" stroke-width="0.9" />
<line x1="315.1" y1="342.5" x2="319.9" y2="342.5" stroke="#111" stroke-width="1.1" />
<rect x="336.25" y="331.25" width="15.75" height="67.15" fill="#000"/>
<line x1="344.12" y1="329.5" x2="344.12" y2="331.25" stroke="#111" stroke-width="0.9" />
<line x1="341.73" y1="329.5" x2="346.52" y2="329.5" stroke="#111" stroke-width="1.1" />
<rect x="363" y="321.75" width="15.75" height="76.65" fill="#000"/>
<line x1="370.88" y1="313.75" x2="370.88" y2="321.75" stroke="#111" stroke-width="0.9" />
<line x1="368.48" y1="313.75" x2="373.27" y2="313.75" stroke="#111" stroke-width="1.1" />
<rect x="389.5" y="322" width="16" height="76.4" fill="#000"/>
<line x1="397.5" y1="308.75" x2="397.5" y2="322" stroke="#111" stroke-width="0.9" />
<line x1="395.1" y1="308.75" x2="399.9" y2="308.75" stroke="#111" stroke-width="1.1" />
<rect x="417.3" y="351.3" width="14.65" height="47.1" fill="#fff" stroke="#0a0a0a" stroke-width="1.1"/>
<line x1="424.62" y1="335.5" x2="424.62" y2="350.75" stroke="#111" stroke-width="0.9" />
<line x1="422.23" y1="335.5" x2="427.02" y2="335.5" stroke="#111" stroke-width="1.1" />
<text x="338.2" y="318.94" font-size="8.48" font-weight="bold" stroke="#000" stroke-width="0.3" textLength="12.2" lengthAdjust="spacingAndGlyphs">††</text>
<text x="364.6" y="305.14" font-size="8.48" font-weight="bold" stroke="#000" stroke-width="0.3" textLength="12.2" lengthAdjust="spacingAndGlyphs">††</text>
<text x="391.4" y="298.74" font-size="8.48" font-weight="bold" stroke="#000" stroke-width="0.3" textLength="12.2" lengthAdjust="spacingAndGlyphs">††</text>
<text transform="translate(420 330.01) scale(1.05 1)" x="0 5.87" y="0" font-size="12.7" font-weight="bold" stroke="#000" stroke-width="0.2">**</text>
<text x="258" y="408.2" font-size="8.7" font-weight="bold" textLength="12.5" lengthAdjust="spacingAndGlyphs" stroke="#000" stroke-width="0.18">PBS</text>
<text x="283.75" y="408.2" font-size="8.7" font-weight="bold" textLength="13.75" lengthAdjust="spacingAndGlyphs" stroke="#000" stroke-width="0.18">ASA</text>
<text x="313.75" y="408.2" font-size="8.7" font-weight="bold" textLength="8.25" lengthAdjust="spacingAndGlyphs" stroke="#000" stroke-width="0.18">8h</text>
<text x="337.5" y="408.2" font-size="8.7" font-weight="bold" textLength="12.5" lengthAdjust="spacingAndGlyphs" stroke="#000" stroke-width="0.18">24h</text>
<text x="364.5" y="408.2" font-size="8.7" font-weight="bold" textLength="13" lengthAdjust="spacingAndGlyphs" stroke="#000" stroke-width="0.18">30h</text>
<text x="391.25" y="408.2" font-size="8.7" font-weight="bold" textLength="13.25" lengthAdjust="spacingAndGlyphs" stroke="#000" stroke-width="0.18">48h</text>
<text x="407.5" y="408.2" font-size="8.7" font-weight="bold" textLength="33.75" lengthAdjust="spacingAndGlyphs" stroke="#000" stroke-width="0.18">ASA (48h)</text>
<line x1="307.5" y1="413.3" x2="441.2" y2="413.3" stroke="#222" stroke-width="1.4" />
<text x="368" y="424.26" font-size="8.3" font-weight="bold" textLength="11.5" lengthAdjust="spacingAndGlyphs" stroke="#000" stroke-width="0.18">LPS</text>
</g>
<g id="pI">
<text x="441" y="295.02" font-size="12.2" font-weight="bold" stroke="#000" stroke-width="0.35" textLength="3.5" lengthAdjust="spacingAndGlyphs">I</text>
<line x1="474.2" y1="318.8" x2="474.2" y2="398.5" stroke="#8c8c8c" stroke-width="1" />
<line x1="471.2" y1="398.5" x2="474.2" y2="398.5" stroke="#8c8c8c" stroke-width="1" />
<text x="467.4" y="401.5" font-size="8.7" text-anchor="end" font-weight="bold" textLength="4.5" lengthAdjust="spacingAndGlyphs" stroke="#000" stroke-width="0.18">0</text>
<line x1="471.2" y1="385.22" x2="474.2" y2="385.22" stroke="#8c8c8c" stroke-width="1" />
<text x="467.4" y="388.22" font-size="8.7" text-anchor="end" font-weight="bold" textLength="4.5" lengthAdjust="spacingAndGlyphs" stroke="#000" stroke-width="0.18">2</text>
<line x1="471.2" y1="371.93" x2="474.2" y2="371.93" stroke="#8c8c8c" stroke-width="1" />
<text x="467.4" y="374.93" font-size="8.7" text-anchor="end" font-weight="bold" textLength="4.5" lengthAdjust="spacingAndGlyphs" stroke="#000" stroke-width="0.18">4</text>
<line x1="471.2" y1="358.65" x2="474.2" y2="358.65" stroke="#8c8c8c" stroke-width="1" />
<text x="467.4" y="361.65" font-size="8.7" text-anchor="end" font-weight="bold" textLength="4.5" lengthAdjust="spacingAndGlyphs" stroke="#000" stroke-width="0.18">6</text>
<line x1="471.2" y1="345.37" x2="474.2" y2="345.37" stroke="#8c8c8c" stroke-width="1" />
<text x="467.4" y="348.37" font-size="8.7" text-anchor="end" font-weight="bold" textLength="4.5" lengthAdjust="spacingAndGlyphs" stroke="#000" stroke-width="0.18">8</text>
<line x1="471.2" y1="332.08" x2="474.2" y2="332.08" stroke="#8c8c8c" stroke-width="1" />
<text x="467.4" y="335.08" font-size="8.7" text-anchor="end" font-weight="bold" textLength="8.9" lengthAdjust="spacingAndGlyphs" stroke="#000" stroke-width="0.18">10</text>
<line x1="471.2" y1="318.8" x2="474.2" y2="318.8" stroke="#8c8c8c" stroke-width="1" />
<text x="467.4" y="321.8" font-size="8.7" text-anchor="end" font-weight="bold" textLength="8.9" lengthAdjust="spacingAndGlyphs" stroke="#000" stroke-width="0.18">12</text>
<text transform="translate(452.6 359.2) rotate(-90)" x="0" y="2.76" font-size="8" text-anchor="middle" textLength="45" lengthAdjust="spacingAndGlyphs" stroke="#000" stroke-width="0.35">BAL&#160; NPA (%)</text>
<line x1="474.2" y1="398.5" x2="520" y2="398.5" stroke="#8c8c8c" stroke-width="1" />
<rect x="477.7" y="341.2" width="17.4" height="57.3" fill="#000"/>
<line x1="486.3" y1="330.8" x2="486.3" y2="341.2" stroke="#222" stroke-width="0.9" />
<line x1="483.9" y1="330.8" x2="488.7" y2="330.8" stroke="#222" stroke-width="1.1" />
<rect x="501.3" y="389.05" width="15.65" height="9.45" fill="#fff" stroke="#0a0a0a" stroke-width="1.1"/>
<line x1="509.2" y1="386" x2="509.2" y2="388.5" stroke="#222" stroke-width="0.9" />
<line x1="506.8" y1="386" x2="511.6" y2="386" stroke="#222" stroke-width="1.1" />
<text transform="translate(506 385.69) scale(0.92 1)" x="0" y="0" font-size="13.24" font-weight="bold" stroke="#000" stroke-width="0.2">*</text>
<text x="479.5" y="409.54" font-size="8.8" font-weight="bold" textLength="13" lengthAdjust="spacingAndGlyphs" stroke="#000" stroke-width="0.18">Veh</text>
<text x="502.5" y="409.54" font-size="8.8" font-weight="bold" textLength="13.75" lengthAdjust="spacingAndGlyphs" stroke="#000" stroke-width="0.18">ASA</text>
<line x1="475.5" y1="414" x2="520" y2="414" stroke="#333" stroke-width="1.4" />
<text x="491.3" y="425.06" font-size="8.3" font-weight="bold" textLength="10.7" lengthAdjust="spacingAndGlyphs" stroke="#000" stroke-width="0.18">LPS</text>
</g>
</svg>
</body>
</html>
